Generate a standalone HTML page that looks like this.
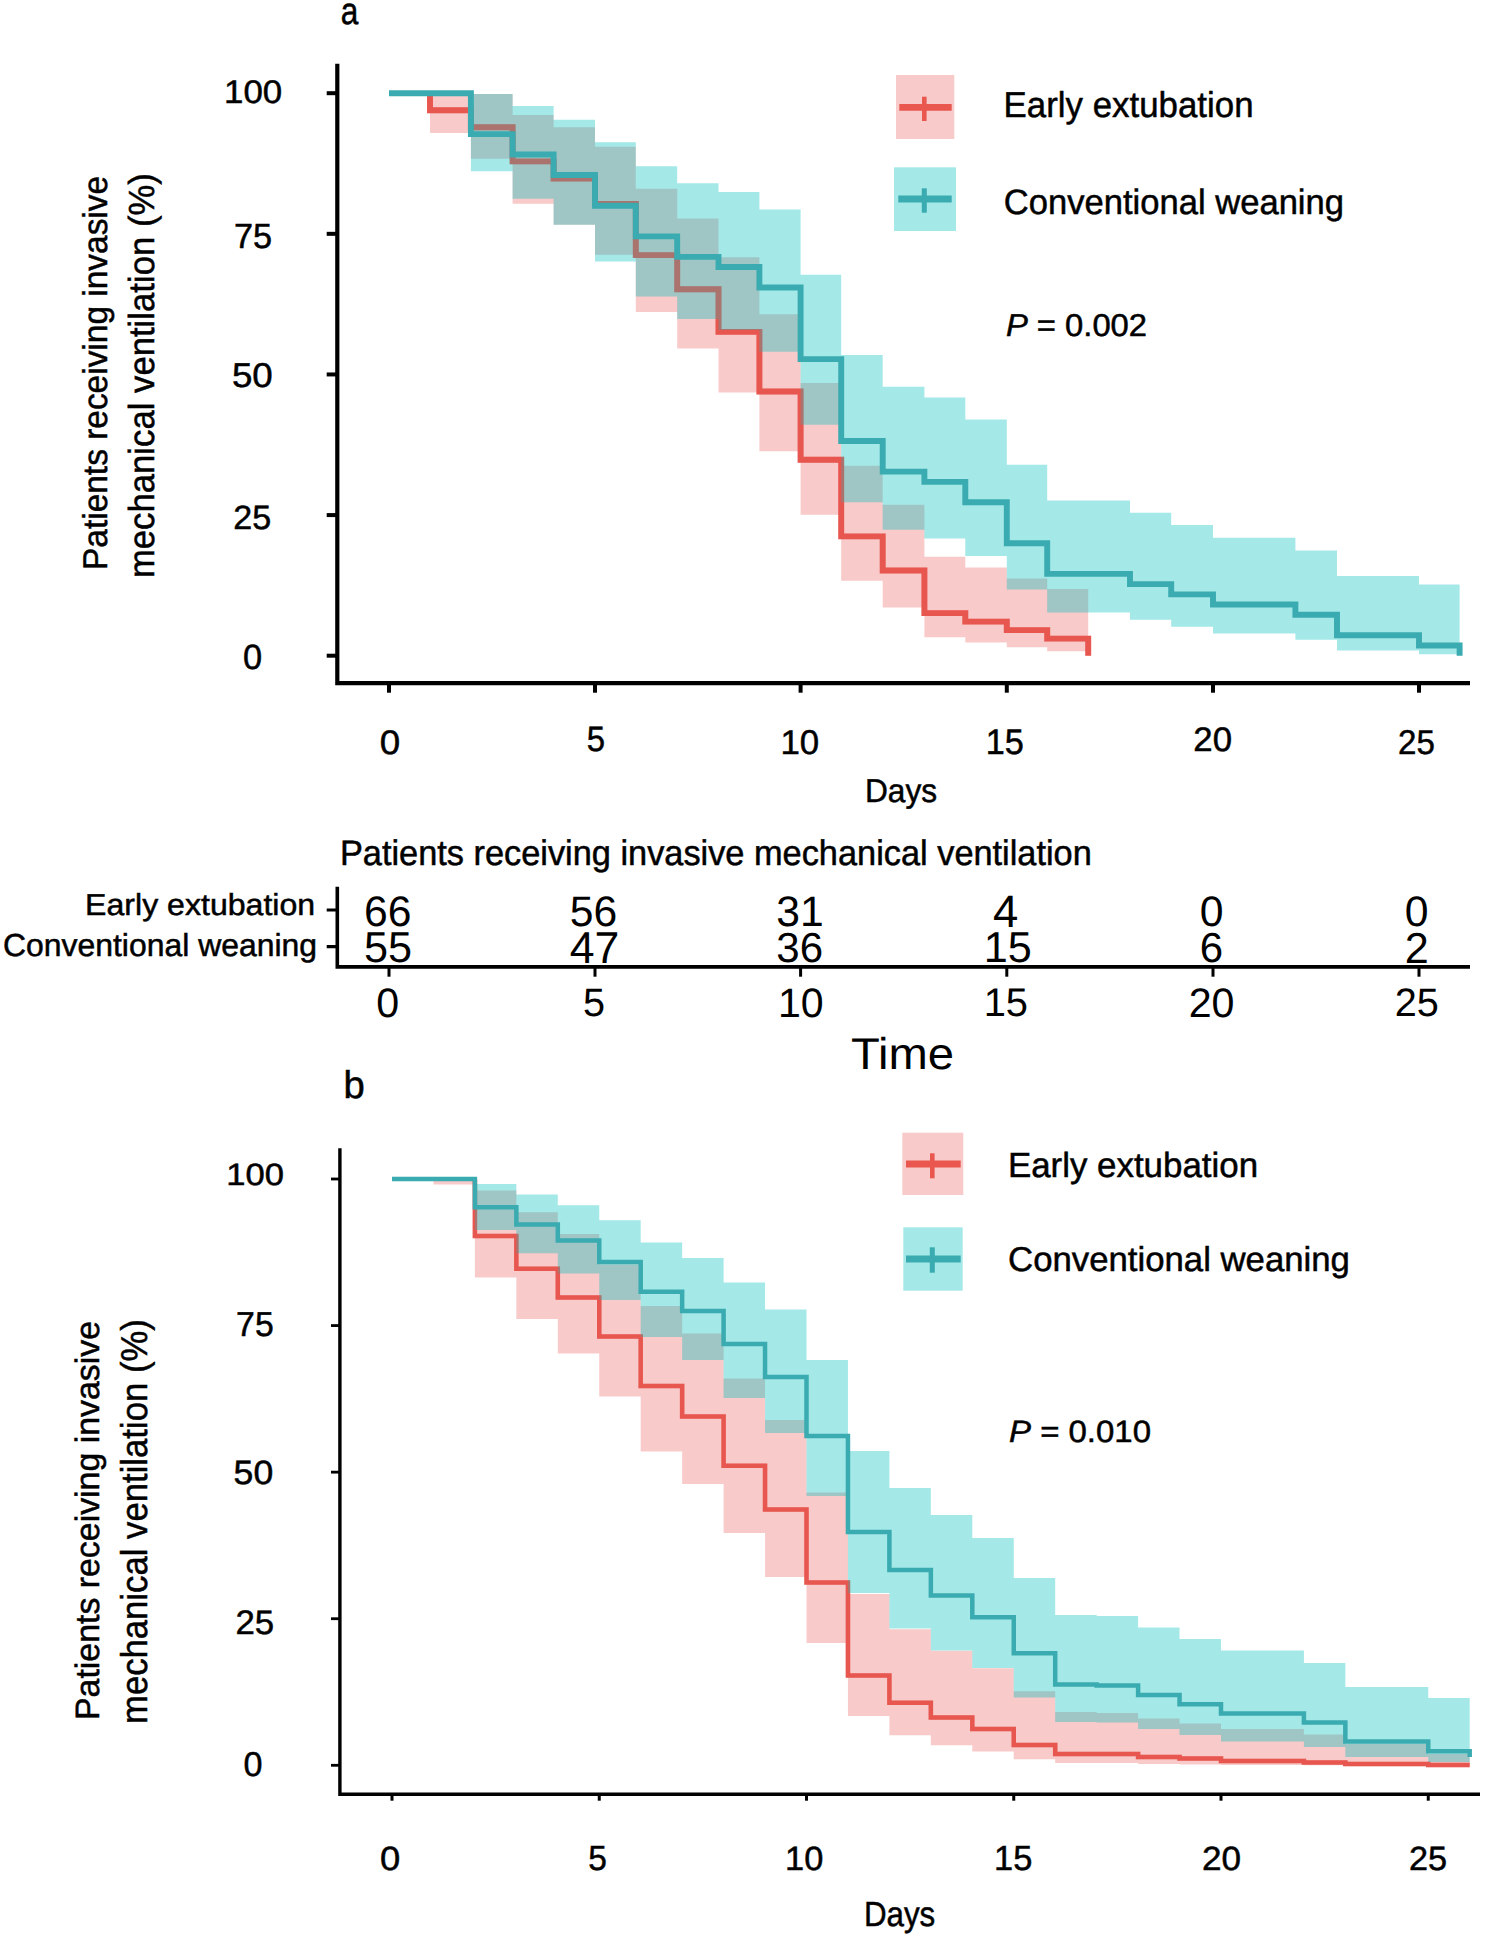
<!DOCTYPE html><html><head><meta charset="utf-8"><style>html,body{margin:0;padding:0;background:#fff;}svg{display:block;}text{font-family:"Liberation Sans",sans-serif;fill:#000;text-rendering:geometricPrecision;}</style></head><body>
<svg width="1499" height="1937" viewBox="0 0 1499 1937">
<rect width="1499" height="1937" fill="#fff"/>
<path d="M430 93.2 L470.9 93.2 L470.9 93.9 L512.6 93.9 L512.6 115.05 L553.6 115.05 L553.6 127.2 L595 127.2 L595 146.67 L635.8 146.67 L635.8 188.72 L677.2 188.72 L677.2 218.5 L718.5 218.5 L718.5 257.32 L759.4 257.32 L759.4 314.29 L800.6 314.29 L800.6 383.07 L841.2 383.07 L841.2 465.75 L882.7 465.75 L882.7 504.86 L924.4 504.86 L924.4 556.73 L965.3 556.73 L965.3 567.57 L1006.8 567.57 L1006.8 578.46 L1047.2 578.46 L1047.2 588.97 L1088.2 588.97 L1088.2 651.35 L1047.2 651.35 L1047.2 647.24 L1006.8 647.24 L1006.8 642.51 L965.3 642.51 L965.3 637.35 L924.4 637.35 L924.4 607.55 L882.7 607.55 L882.7 580.75 L841.2 580.75 L841.2 514.76 L800.6 514.76 L800.6 451.24 L759.4 451.24 L759.4 392.42 L718.5 392.42 L718.5 348.5 L677.2 348.5 L677.2 312.1 L635.8 312.1 L635.8 254.87 L595 254.87 L595 224.69 L553.6 224.69 L553.6 203.75 L512.6 203.75 L512.6 158.7 L470.9 158.7 L470.9 133.02 L430 133.02Z " fill="#EC7472" fill-opacity="0.38"/>
<path d="M430 93.2 L430 110.25 L470.9 110.25 L470.9 127.29 L512.6 127.29 L512.6 161.38 L553.6 161.38 L553.6 178.43 L595 178.43 L595 204 L635.8 204 L635.8 255.13 L677.2 255.13 L677.2 289.22 L718.5 289.22 L718.5 331.84 L759.4 331.84 L759.4 391.5 L800.6 391.5 L800.6 459.68 L841.2 459.68 L841.2 536.38 L882.7 536.38 L882.7 570.47 L924.4 570.47 L924.4 613.09 L965.3 613.09 L965.3 621.61 L1006.8 621.61 L1006.8 630.13 L1047.2 630.13 L1047.2 638.65 L1088.2 638.65 L1088.2 655.7" fill="none" stroke="#E9574F" stroke-width="5.9" stroke-linejoin="miter" stroke-linecap="butt"/>
<path d="M470.9 94.04 L512.6 94.04 L512.6 106.01 L553.6 106.01 L553.6 119.64 L595 119.64 L595 142.13 L635.8 142.13 L635.8 166.36 L677.2 166.36 L677.2 183.27 L718.5 183.27 L718.5 191.92 L759.4 191.92 L759.4 209.59 L800.6 209.59 L800.6 274.78 L841.2 274.78 L841.2 355.08 L882.7 355.08 L882.7 386.8 L924.4 386.8 L924.4 397.59 L965.3 397.59 L965.3 419.5 L1006.8 419.5 L1006.8 464.84 L1047.2 464.84 L1047.2 500.44 L1130 500.44 L1130 512.67 L1171.2 512.67 L1171.2 525.11 L1213 525.11 L1213 537.75 L1295.4 537.75 L1295.4 550.59 L1337 550.59 L1337 575.97 L1419 575.97 L1419 584.38 L1459.6 584.38 L1459.6 654.23 L1419 654.23 L1419 650.45 L1337 650.45 L1337 639.78 L1295.4 639.78 L1295.4 633.53 L1213 633.53 L1213 626.87 L1171.2 626.87 L1171.2 619.87 L1130 619.87 L1130 612.58 L1047.2 612.58 L1047.2 589.39 L1006.8 589.39 L1006.8 556.06 L965.3 556.06 L965.3 538.59 L924.4 538.59 L924.4 529.67 L882.7 529.67 L882.7 502.26 L841.2 502.26 L841.2 424.77 L800.6 424.77 L800.6 351.84 L759.4 351.84 L759.4 330.03 L718.5 330.03 L718.5 318.95 L677.2 318.95 L677.2 296.39 L635.8 296.39 L635.8 261.4 L595 261.4 L595 224.67 L553.6 224.67 L553.6 198.83 L512.6 198.83 L512.6 171.32 L470.9 171.32Z " fill="#02C0BE" fill-opacity="0.36"/>
<path d="M430 93.2 L430 110.25 L470.9 110.25 L470.9 127.29 L512.6 127.29 L512.6 161.38 L553.6 161.38 L553.6 178.43 L595 178.43 L595 204 L635.8 204 L635.8 255.13 L677.2 255.13 L677.2 289.22 L718.5 289.22 L718.5 331.84 L759.4 331.84 L759.4 391.5 L800.6 391.5 L800.6 459.68 L841.2 459.68 L841.2 536.38 L882.7 536.38 L882.7 570.47 L924.4 570.47 L924.4 613.09 L965.3 613.09 L965.3 621.61 L1006.8 621.61 L1006.8 630.13 L1047.2 630.13 L1047.2 638.65 L1088.2 638.65 L1088.2 655.7" fill="none" stroke="#E9574F" stroke-width="5.9" stroke-opacity="0.25" stroke-linejoin="miter" stroke-linecap="butt"/>
<path d="M389 93.2 L470.9 93.2 L470.9 134.11 L512.6 134.11 L512.6 154.56 L553.6 154.56 L553.6 175.02 L595 175.02 L595 205.7 L635.8 205.7 L635.8 236.38 L677.2 236.38 L677.2 256.84 L718.5 256.84 L718.5 267.06 L759.4 267.06 L759.4 287.52 L800.6 287.52 L800.6 359.11 L841.2 359.11 L841.2 440.93 L882.7 440.93 L882.7 471.61 L924.4 471.61 L924.4 481.84 L965.3 481.84 L965.3 502.29 L1006.8 502.29 L1006.8 543.2 L1047.2 543.2 L1047.2 573.88 L1130 573.88 L1130 584.11 L1171.2 584.11 L1171.2 594.34 L1213 594.34 L1213 604.56 L1295.4 604.56 L1295.4 614.79 L1337 614.79 L1337 635.25 L1419 635.25 L1419 645.47 L1459.6 645.47 L1459.6 655.7" fill="none" stroke="#3AABB0" stroke-width="5.9" stroke-linejoin="miter" stroke-linecap="butt"/>
<path d="M337.3 63.7 V683.2 H1470" fill="none" stroke="#000" stroke-width="4.2" stroke-linecap="butt" stroke-linejoin="miter"/>
<path d="M326.7 655.7 H337" stroke="#000" stroke-width="4"/>
<path d="M326.7 515.08 H337" stroke="#000" stroke-width="4"/>
<path d="M326.7 374.45 H337" stroke="#000" stroke-width="4"/>
<path d="M326.7 233.83 H337" stroke="#000" stroke-width="4"/>
<path d="M326.7 93.2 H337" stroke="#000" stroke-width="4"/>
<path d="M389 683 V692.7" stroke="#000" stroke-width="4"/>
<path d="M595 683 V692.7" stroke="#000" stroke-width="4"/>
<path d="M800.6 683 V692.7" stroke="#000" stroke-width="4"/>
<path d="M1006.8 683 V692.7" stroke="#000" stroke-width="4"/>
<path d="M1213 683 V692.7" stroke="#000" stroke-width="4"/>
<path d="M1419 683 V692.7" stroke="#000" stroke-width="4"/>
<path d="M433.45 1179 L474.9 1179 L474.9 1190.4 L516.35 1190.4 L516.35 1212.3 L557.8 1212.3 L557.8 1234 L599.25 1234 L599.25 1264.5 L640.7 1264.5 L640.7 1306 L682.15 1306 L682.15 1333.6 L723.6 1333.6 L723.6 1378.6 L765.05 1378.6 L765.05 1420 L806.5 1420 L806.5 1492.4 L847.95 1492.4 L847.95 1594 L889.4 1594 L889.4 1629.3 L930.85 1629.3 L930.85 1650.7 L972.3 1650.7 L972.3 1668.3 L1013.75 1668.3 L1013.75 1691.3 L1055.2 1691.3 L1055.2 1712 L1096.65 1712 L1096.65 1713 L1138.1 1713 L1138.1 1718.4 L1179.55 1718.4 L1179.55 1723.6 L1221 1723.6 L1221 1729 L1303.9 1729 L1303.9 1734.4 L1345.35 1734.4 L1345.35 1744 L1428.25 1744 L1428.25 1754 L1469.7 1754 L1469.7 1765.5 L1428.25 1765.5 L1428.25 1765.4 L1345.35 1765.4 L1345.35 1765.2 L1303.9 1765.2 L1303.9 1765 L1221 1765 L1221 1764.5 L1179.55 1764.5 L1179.55 1764 L1138.1 1764 L1138.1 1763 L1096.65 1763 L1096.65 1763 L1055.2 1763 L1055.2 1759.3 L1013.75 1759.3 L1013.75 1751.5 L972.3 1751.5 L972.3 1745.3 L930.85 1745.3 L930.85 1735.3 L889.4 1735.3 L889.4 1716 L847.95 1716 L847.95 1643 L806.5 1643 L806.5 1577 L765.05 1577 L765.05 1533 L723.6 1533 L723.6 1484 L682.15 1484 L682.15 1451.6 L640.7 1451.6 L640.7 1396.5 L599.25 1396.5 L599.25 1353.6 L557.8 1353.6 L557.8 1319 L516.35 1319 L516.35 1277.6 L474.9 1277.6 L474.9 1184.5 L433.45 1184.5Z " fill="#EC7472" fill-opacity="0.38"/>
<path d="M474.9 1179.4 L474.9 1236 L516.35 1236 L516.35 1268.8 L557.8 1268.8 L557.8 1297.5 L599.25 1297.5 L599.25 1336.5 L640.7 1336.5 L640.7 1386 L682.15 1386 L682.15 1416.4 L723.6 1416.4 L723.6 1465.8 L765.05 1465.8 L765.05 1509.6 L806.5 1509.6 L806.5 1582.5 L847.95 1582.5 L847.95 1675.5 L889.4 1675.5 L889.4 1702.7 L930.85 1702.7 L930.85 1717.4 L972.3 1717.4 L972.3 1729 L1013.75 1729 L1013.75 1745 L1055.2 1745 L1055.2 1754 L1138.1 1754 L1138.1 1757 L1179.55 1757 L1179.55 1758.5 L1221 1758.5 L1221 1761 L1303.9 1761 L1303.9 1762.4 L1345.35 1762.4 L1345.35 1764 L1428.25 1764 L1428.25 1765 L1469.7 1765" fill="none" stroke="#E9574F" stroke-width="4.5" stroke-linejoin="miter"/>
<path d="M474.9 1184 L516.35 1184 L516.35 1194.4 L557.8 1194.4 L557.8 1205.3 L599.25 1205.3 L599.25 1220.2 L640.7 1220.2 L640.7 1242.4 L682.15 1242.4 L682.15 1258 L723.6 1258 L723.6 1282.4 L765.05 1282.4 L765.05 1309.6 L806.5 1309.6 L806.5 1360 L847.95 1360 L847.95 1451 L889.4 1451 L889.4 1488 L930.85 1488 L930.85 1515 L972.3 1515 L972.3 1538 L1013.75 1538 L1013.75 1578 L1055.2 1578 L1055.2 1615 L1096.65 1615 L1096.65 1616 L1138.1 1616 L1138.1 1627.6 L1179.55 1627.6 L1179.55 1639 L1221 1639 L1221 1650.4 L1303.9 1650.4 L1303.9 1663 L1345.35 1663 L1345.35 1687 L1428.25 1687 L1428.25 1698 L1469.7 1698 L1469.7 1762 L1428.25 1762 L1428.25 1757 L1345.35 1757 L1345.35 1747 L1303.9 1747 L1303.9 1741.6 L1221 1741.6 L1221 1735 L1179.55 1735 L1179.55 1729 L1138.1 1729 L1138.1 1722.4 L1096.65 1722.4 L1096.65 1722 L1055.2 1722 L1055.2 1697.5 L1013.75 1697.5 L1013.75 1668 L972.3 1668 L972.3 1650.5 L930.85 1650.5 L930.85 1628.5 L889.4 1628.5 L889.4 1593 L847.95 1593 L847.95 1496 L806.5 1496 L806.5 1433 L765.05 1433 L765.05 1398 L723.6 1398 L723.6 1360 L682.15 1360 L682.15 1337 L640.7 1337 L640.7 1300 L599.25 1300 L599.25 1273.6 L557.8 1273.6 L557.8 1253.3 L516.35 1253.3 L516.35 1230 L474.9 1230Z " fill="#02C0BE" fill-opacity="0.36"/>
<path d="M474.9 1179.4 L474.9 1236 L516.35 1236 L516.35 1268.8 L557.8 1268.8 L557.8 1297.5 L599.25 1297.5 L599.25 1336.5 L640.7 1336.5 L640.7 1386 L682.15 1386 L682.15 1416.4 L723.6 1416.4 L723.6 1465.8 L765.05 1465.8 L765.05 1509.6 L806.5 1509.6 L806.5 1582.5 L847.95 1582.5 L847.95 1675.5 L889.4 1675.5 L889.4 1702.7 L930.85 1702.7 L930.85 1717.4 L972.3 1717.4 L972.3 1729 L1013.75 1729 L1013.75 1745 L1055.2 1745 L1055.2 1754 L1138.1 1754 L1138.1 1757 L1179.55 1757 L1179.55 1758.5 L1221 1758.5 L1221 1761 L1303.9 1761 L1303.9 1762.4 L1345.35 1762.4 L1345.35 1764 L1428.25 1764 L1428.25 1765 L1469.7 1765" fill="none" stroke="#E9574F" stroke-width="4.5" stroke-opacity="0.25" stroke-linejoin="miter"/>
<path d="M392 1179 L474.9 1179 L474.9 1207.3 L516.35 1207.3 L516.35 1224.6 L557.8 1224.6 L557.8 1240.5 L599.25 1240.5 L599.25 1262 L640.7 1262 L640.7 1291.8 L682.15 1291.8 L682.15 1311 L723.6 1311 L723.6 1344 L765.05 1344 L765.05 1377 L806.5 1377 L806.5 1436 L847.95 1436 L847.95 1532 L889.4 1532 L889.4 1570 L930.85 1570 L930.85 1595.5 L972.3 1595.5 L972.3 1617.3 L1013.75 1617.3 L1013.75 1653.2 L1055.2 1653.2 L1055.2 1684.4 L1096.65 1684.4 L1096.65 1685.6 L1138.1 1685.6 L1138.1 1695 L1179.55 1695 L1179.55 1704.2 L1221 1704.2 L1221 1713.6 L1303.9 1713.6 L1303.9 1722.4 L1345.35 1722.4 L1345.35 1741.5 L1428.25 1741.5 L1428.25 1751.2 L1469.7 1751.2 L1469.7 1757" fill="none" stroke="#3AABB0" stroke-width="4.5" stroke-linejoin="miter"/>
<path d="M339.9 1148.3 V1794.3 H1480" fill="none" stroke="#000" stroke-width="3.4" stroke-linejoin="miter"/>
<path d="M331 1765.3 H340" stroke="#000" stroke-width="2.8"/>
<path d="M331 1618.72 H340" stroke="#000" stroke-width="2.8"/>
<path d="M331 1472.15 H340" stroke="#000" stroke-width="2.8"/>
<path d="M331 1325.57 H340" stroke="#000" stroke-width="2.8"/>
<path d="M331 1179 H340" stroke="#000" stroke-width="2.8"/>
<path d="M392 1794 V1800.7" stroke="#000" stroke-width="3"/>
<path d="M599.25 1794 V1800.7" stroke="#000" stroke-width="3"/>
<path d="M806.5 1794 V1800.7" stroke="#000" stroke-width="3"/>
<path d="M1013.75 1794 V1800.7" stroke="#000" stroke-width="3"/>
<path d="M1221 1794 V1800.7" stroke="#000" stroke-width="3"/>
<path d="M1428.25 1794 V1800.7" stroke="#000" stroke-width="3"/>
<path d="M337.3 886.7 V966.9 H1470" fill="none" stroke="#000" stroke-width="3.6" stroke-linejoin="miter"/>
<path d="M326.7 910 H337 M326.7 946.7 H337" stroke="#000" stroke-width="3.2"/>
<path d="M389 967 V976.7" stroke="#000" stroke-width="3"/>
<path d="M595 967 V976.7" stroke="#000" stroke-width="3"/>
<path d="M800.6 967 V976.7" stroke="#000" stroke-width="3"/>
<path d="M1006.8 967 V976.7" stroke="#000" stroke-width="3"/>
<path d="M1213 967 V976.7" stroke="#000" stroke-width="3"/>
<path d="M1419 967 V976.7" stroke="#000" stroke-width="3"/>
<rect x="896" y="75" width="58.3" height="64" fill="#EC7472" fill-opacity="0.38"/>
<path d="M899.3 107.3 H951.7" stroke="#E9574F" stroke-width="6.8"/><path d="M924.3 96.7 V121" stroke="#E9574F" stroke-width="4.6"/>
<rect x="894" y="167.3" width="62" height="63.7" fill="#02C0BE" fill-opacity="0.36"/>
<path d="M898.3 199 H951.7" stroke="#3AABB0" stroke-width="7"/><path d="M924.3 188.3 V212.7" stroke="#3AABB0" stroke-width="5"/>
<rect x="902.3" y="1132.7" width="61" height="62.3" fill="#EC7472" fill-opacity="0.38"/>
<path d="M906 1164 H960.7" stroke="#E9574F" stroke-width="6.8"/><path d="M932.3 1153.3 V1178.3" stroke="#E9574F" stroke-width="4.6"/>
<rect x="903.3" y="1227.3" width="59.4" height="63.4" fill="#02C0BE" fill-opacity="0.36"/>
<path d="M906 1259 H960.7" stroke="#3AABB0" stroke-width="7"/><path d="M932.3 1247.3 V1272.7" stroke="#3AABB0" stroke-width="5"/>
<g>
<text x="340.70" y="24.20" font-size="37.91" textLength="17.60" lengthAdjust="spacingAndGlyphs" stroke="#000" stroke-width="0.50">a</text>
<text x="343.50" y="1097.90" font-size="38.53" textLength="21.27" lengthAdjust="spacingAndGlyphs" stroke="#000" stroke-width="0.50">b</text>
<text x="224.00" y="103.00" font-size="32.75" textLength="58.17" lengthAdjust="spacingAndGlyphs" stroke="#000" stroke-width="0.50">100</text>
<text x="234.00" y="248.00" font-size="34.94" textLength="38.12" lengthAdjust="spacingAndGlyphs" stroke="#000" stroke-width="0.50">75</text>
<text x="231.90" y="386.90" font-size="34.38" textLength="40.87" lengthAdjust="spacingAndGlyphs" stroke="#000" stroke-width="0.50">50</text>
<text x="233.30" y="528.60" font-size="33.75" textLength="37.91" lengthAdjust="spacingAndGlyphs" stroke="#000" stroke-width="0.50">25</text>
<text x="242.90" y="669.40" font-size="35.06" textLength="19.13" lengthAdjust="spacingAndGlyphs" stroke="#000" stroke-width="0.50">0</text>
<text x="379.80" y="754.40" font-size="33.98" textLength="20.44" lengthAdjust="spacingAndGlyphs" stroke="#000" stroke-width="0.50">0</text>
<text x="586.80" y="750.90" font-size="35.24" textLength="18.34" lengthAdjust="spacingAndGlyphs" stroke="#000" stroke-width="0.50">5</text>
<text x="780.40" y="754.40" font-size="34.28" textLength="38.76" lengthAdjust="spacingAndGlyphs" stroke="#000" stroke-width="0.50">10</text>
<text x="985.70" y="754.40" font-size="35.65" textLength="38.13" lengthAdjust="spacingAndGlyphs" stroke="#000" stroke-width="0.50">15</text>
<text x="1193.30" y="750.90" font-size="33.98" textLength="38.72" lengthAdjust="spacingAndGlyphs" stroke="#000" stroke-width="0.50">20</text>
<text x="1398.00" y="754.40" font-size="34.28" textLength="36.81" lengthAdjust="spacingAndGlyphs" stroke="#000" stroke-width="0.50">25</text>
<text x="865.00" y="802.00" font-size="33.10" textLength="72.14" lengthAdjust="spacingAndGlyphs" stroke="#000" stroke-width="0.50">Days</text>
<text transform="translate(107.20 570.00) rotate(-90)" x="0" y="0" font-size="34.31" textLength="394.13" lengthAdjust="spacingAndGlyphs" stroke="#000" stroke-width="0.50">Patients receiving invasive</text>
<text transform="translate(154.00 578.10) rotate(-90)" x="0" y="0" font-size="36.28" textLength="404.96" lengthAdjust="spacingAndGlyphs" stroke="#000" stroke-width="0.50">mechanical ventilation (%)</text>
<text x="1003.60" y="117.00" font-size="35.83" textLength="249.99" lengthAdjust="spacingAndGlyphs" stroke="#000" stroke-width="0.50">Early extubation</text>
<text x="1003.70" y="214.00" font-size="35.20" textLength="340.34" lengthAdjust="spacingAndGlyphs" stroke="#000" stroke-width="0.50">Conventional weaning</text>
<text x="1005.90" y="335.90" font-size="31.64" textLength="141.16" lengthAdjust="spacingAndGlyphs" stroke="#000" stroke-width="0.50"><tspan font-style="italic">P</tspan> = 0.002</text>
<text x="339.90" y="865.00" font-size="35.42" textLength="751.93" lengthAdjust="spacingAndGlyphs" stroke="#000" stroke-width="0.50">Patients receiving invasive mechanical ventilation</text>
<text x="85.10" y="915.00" font-size="30.33" textLength="230.06" lengthAdjust="spacingAndGlyphs" stroke="#000" stroke-width="0.50">Early extubation</text>
<text x="3.00" y="956.00" font-size="31.80" textLength="314.03" lengthAdjust="spacingAndGlyphs" stroke="#000" stroke-width="0.50">Conventional weaning</text>
<text x="850.90" y="1069.00" font-size="44.53" textLength="103.13" lengthAdjust="spacingAndGlyphs">Time</text>
<text x="226.20" y="1184.80" font-size="30.86" textLength="57.68" lengthAdjust="spacingAndGlyphs" stroke="#000" stroke-width="0.50">100</text>
<text x="236.10" y="1336.40" font-size="34.67" textLength="37.63" lengthAdjust="spacingAndGlyphs" stroke="#000" stroke-width="0.50">75</text>
<text x="233.60" y="1484.10" font-size="33.64" textLength="39.60" lengthAdjust="spacingAndGlyphs" stroke="#000" stroke-width="0.50">50</text>
<text x="235.50" y="1634.00" font-size="33.87" textLength="38.74" lengthAdjust="spacingAndGlyphs" stroke="#000" stroke-width="0.50">25</text>
<text x="243.50" y="1776.00" font-size="34.37" textLength="18.99" lengthAdjust="spacingAndGlyphs" stroke="#000" stroke-width="0.50">0</text>
<text x="380.00" y="1870.00" font-size="33.65" textLength="20.25" lengthAdjust="spacingAndGlyphs" stroke="#000" stroke-width="0.50">0</text>
<text x="588.20" y="1870.00" font-size="34.94" textLength="18.64" lengthAdjust="spacingAndGlyphs" stroke="#000" stroke-width="0.50">5</text>
<text x="785.00" y="1870.00" font-size="33.65" textLength="38.28" lengthAdjust="spacingAndGlyphs" stroke="#000" stroke-width="0.50">10</text>
<text x="994.00" y="1870.00" font-size="34.94" textLength="38.28" lengthAdjust="spacingAndGlyphs" stroke="#000" stroke-width="0.50">15</text>
<text x="1202.00" y="1870.00" font-size="33.65" textLength="39.11" lengthAdjust="spacingAndGlyphs" stroke="#000" stroke-width="0.50">20</text>
<text x="1409.00" y="1870.00" font-size="33.65" textLength="38.12" lengthAdjust="spacingAndGlyphs" stroke="#000" stroke-width="0.50">25</text>
<text x="863.90" y="1926.00" font-size="34.85" textLength="71.36" lengthAdjust="spacingAndGlyphs" stroke="#000" stroke-width="0.50">Days</text>
<text transform="translate(99.00 1720.00) rotate(-90)" x="0" y="0" font-size="33.84" textLength="399.02" lengthAdjust="spacingAndGlyphs" stroke="#000" stroke-width="0.50">Patients receiving invasive</text>
<text transform="translate(146.60 1724.00) rotate(-90)" x="0" y="0" font-size="37.31" textLength="404.84" lengthAdjust="spacingAndGlyphs" stroke="#000" stroke-width="0.50">mechanical ventilation (%)</text>
<text x="1007.90" y="1176.90" font-size="34.81" textLength="250.20" lengthAdjust="spacingAndGlyphs" stroke="#000" stroke-width="0.50">Early extubation</text>
<text x="1008.10" y="1270.90" font-size="34.52" textLength="341.85" lengthAdjust="spacingAndGlyphs" stroke="#000" stroke-width="0.50">Conventional weaning</text>
<text x="1009.00" y="1442.10" font-size="30.81" textLength="142.03" lengthAdjust="spacingAndGlyphs" stroke="#000" stroke-width="0.50"><tspan font-style="italic">P</tspan> = 0.010</text>
<text x="364.00" y="925.70" font-size="42.64">66</text>
<text x="569.70" y="925.70" font-size="42.64">56</text>
<text x="776.30" y="925.70" font-size="42.64">31</text>
<text x="993.00" y="926.70" font-size="45.48">4</text>
<text x="1199.70" y="925.70" font-size="42.72">0</text>
<text x="1404.70" y="925.70" font-size="42.72">0</text>
<text x="364.00" y="961.70" font-size="43.23">55</text>
<text x="569.70" y="962.70" font-size="44.62">47</text>
<text x="776.30" y="961.70" font-size="42.01">36</text>
<text x="983.70" y="961.70" font-size="43.23">15</text>
<text x="1199.70" y="961.70" font-size="41.97">6</text>
<text x="1404.70" y="962.70" font-size="43.23">2</text>
<text x="376.30" y="1016.70" font-size="41.20">0</text>
<text x="583.00" y="1015.70" font-size="39.68">5</text>
<text x="778.00" y="1016.70" font-size="41.10">10</text>
<text x="983.70" y="1015.70" font-size="39.83">15</text>
<text x="1188.70" y="1016.70" font-size="41.20">20</text>
<text x="1394.70" y="1015.70" font-size="39.68">25</text>
</g>
</svg></body></html>
